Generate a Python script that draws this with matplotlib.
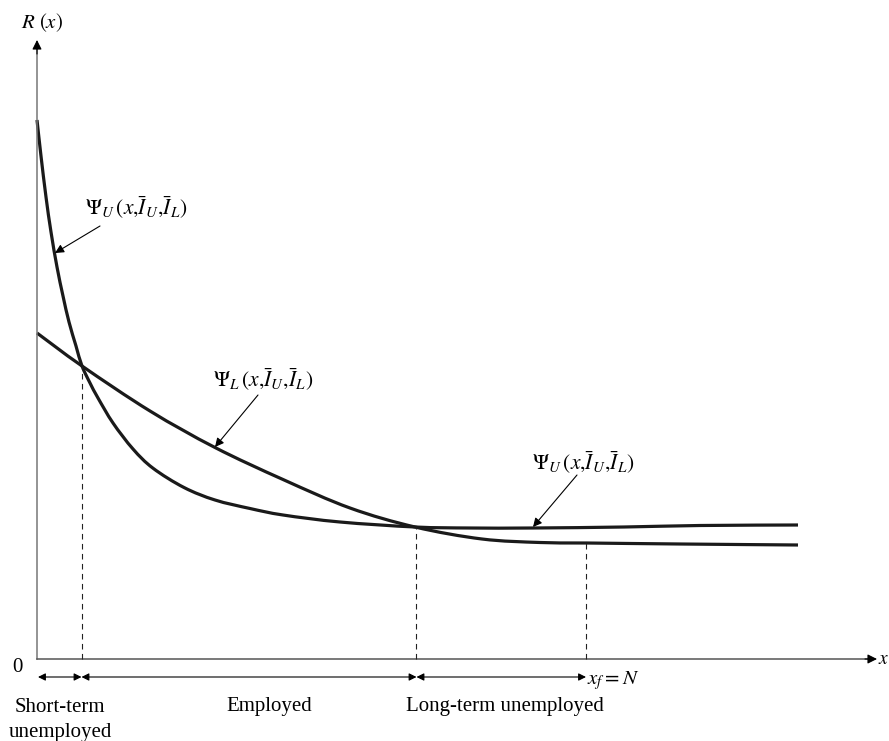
import numpy as np
import matplotlib
matplotlib.use("Agg")
import matplotlib.pyplot as plt
from matplotlib.path import Path
from matplotlib.patches import PathPatch

plt.rcParams['font.family'] = ['Liberation Serif', 'DejaVu Serif']
plt.rcParams['mathtext.fontset'] = 'stix'

# courbes (x, R(x)) en unites arbitraires
psi_u_x = [0.00, 0.04, 0.09, 0.14, 0.20, 0.26, 0.32, 0.39, 0.45, 0.53, 0.61, 0.76,
           0.96, 1.16, 1.47, 1.78, 2.13, 2.46, 3.03, 3.78, 4.33, 4.96, 5.87, 6.63, 7.61]
psi_u_y = [5.39, 5.03, 4.62, 4.27, 3.92, 3.63, 3.37, 3.13, 2.93, 2.76, 2.61, 2.36,
           2.10, 1.908, 1.715, 1.59, 1.505, 1.44, 1.37, 1.32, 1.31, 1.31, 1.32, 1.335, 1.34]
psi_l_x = [0.00, 0.45, 1.13, 1.78, 2.46, 3.13, 3.78, 4.45, 5.03, 5.49, 6.43, 7.61]
psi_l_y = [3.26, 2.93, 2.48, 2.115, 1.795, 1.51, 1.32, 1.20, 1.165, 1.16, 1.15, 1.14]

# seuils (lignes pointillees) et zones
seuils_x = [0.45, 3.79, 5.49]
seuils_y = [2.93, 1.32, 1.16]
bornes = [0.01, 0.445, 3.795, 5.49]

fig = plt.figure(figsize=(8.89, 7.41), dpi=100)
ax = fig.add_axes([0, 0, 1, 1])
ax.set_xlim(-0.37, 8.52)
ax.set_ylim(-0.82, 6.59)
ax.axis('off')


def courbe_lisse(xs, ys):
    # spline de Catmull-Rom -> segments de Bezier cubiques
    pts = np.column_stack([xs, ys])
    verts = [pts[0]]
    codes = [Path.MOVETO]
    n = len(pts)
    for i in range(n - 1):
        p0 = pts[max(i - 1, 0)]
        p1 = pts[i]
        p2 = pts[i + 1]
        p3 = pts[min(i + 2, n - 1)]
        c1 = p1 + (p2 - p0) / 6
        c2 = p2 - (p3 - p1) / 6
        verts += [c1, c2, p2]
        codes += [Path.CURVE4] * 3
    return PathPatch(Path(verts, codes), fill=False, lw=2.3, color='#1a1a1a',
                     capstyle='butt', joinstyle='round')


ax.add_patch(courbe_lisse(psi_u_x, psi_u_y))
ax.add_patch(courbe_lisse(psi_l_x, psi_l_y))

# axes avec fleches
ax.plot([0, 0], [0, 6.10], color='#777777', lw=1.1)
ax.plot([0, 8.32], [0, 0], color='#555555', lw=1.1)
pointe = dict(arrowstyle='-|>', color='black', lw=0.8, mutation_scale=14,
              shrinkA=0, shrinkB=0)
ax.annotate('', xy=(0, 6.19), xytext=(0, 6.05), arrowprops=pointe)
ax.annotate('', xy=(8.40, 0), xytext=(8.28, 0), arrowprops=pointe)

# lignes pointillees
for sx, sy in zip(seuils_x, seuils_y):
    ax.plot([sx, sx], [0, sy], color='#222222', lw=0.8, dashes=(5, 4))

# fleches des zones
for i in range(3):
    ax.annotate('', xy=(bornes[i], -0.18), xytext=(bornes[i + 1], -0.18),
                arrowprops=dict(arrowstyle='<|-|>', color='black', lw=0.8,
                                mutation_scale=11, shrinkA=0, shrinkB=0))

fs = 15
ax.text(0.23, -0.48, 'Short-term', ha='center', va='center', fontsize=fs)
ax.text(0.23, -0.73, 'unemployed', ha='center', va='center', fontsize=fs)
ax.text(2.32, -0.48, 'Employed', ha='center', va='center', fontsize=fs)
ax.text(4.68, -0.48, 'Long-term unemployed', ha='center', va='center', fontsize=fs)
ax.text(-0.20, -0.09, '0', ha='center', va='center', fontsize=fs)
ax.text(5.50, -0.22, r'$x_f = N$', ha='left', va='center', fontsize=fs)
ax.text(8.415, 0.0, r'$x$', ha='left', va='center', fontsize=14)
ax.text(0.05, 6.36, r'$R\ (x)$', ha='center', va='center', fontsize=fs)

lab_u = r'$\Psi_U\,(x{,}\bar{I}_U{,}\bar{I}_L)$'
lab_l = r'$\Psi_L\,(x{,}\bar{I}_U{,}\bar{I}_L)$'
fleche = dict(arrowstyle='-|>', color='black', lw=0.8, mutation_scale=13,
              shrinkA=0, shrinkB=0)
fl = 15.5
ax.text(0.48, 4.51, lab_u, ha='left', va='center', fontsize=fl)
ax.annotate('', xy=(0.18, 4.06), xytext=(0.63, 4.33), arrowprops=fleche)
ax.text(1.76, 2.79, lab_l, ha='left', va='center', fontsize=fl)
ax.annotate('', xy=(1.78, 2.12), xytext=(2.21, 2.64), arrowprops=fleche)
ax.text(4.95, 1.96, lab_u, ha='left', va='center', fontsize=fl)
ax.annotate('', xy=(4.96, 1.32), xytext=(5.40, 1.84), arrowprops=fleche)

fig.savefig('out.png', dpi=100)
